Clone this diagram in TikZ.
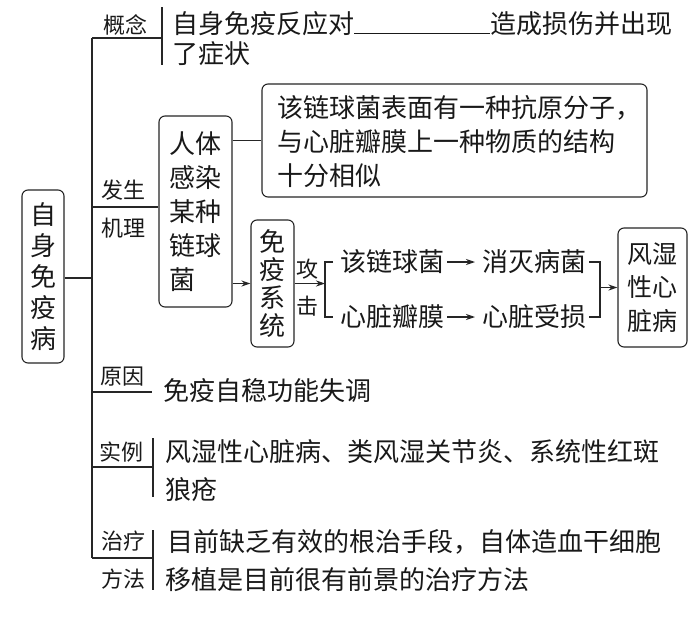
\documentclass[tikz,border=0pt]{standalone}
\usepackage{fontspec}
\setmainfont{Noto Sans CJK SC}
\usetikzlibrary{arrows.meta}
\begin{document}
\begin{tikzpicture}[x=1pt,y=-1pt,
  ln/.style={line width=1.1pt, draw=black!85},
  arr/.style={ln, -{Stealth[length=9pt,width=6pt]}},
  box/.style={draw=black!85, line width=1.1pt, rounded corners=6pt, inner sep=0pt, align=center, text=black!90},
  txt/.style={font=\fontsize{26}{33}\selectfont, inner sep=0pt, anchor=west, align=left, text=black!90},
  lab/.style={font=\fontsize{22}{26}\selectfont, inner sep=0pt, text=black!90},
]
\useasboundingbox[fill=white] (0,0) rectangle (696,621);

% root
\node[box, minimum width=42, minimum height=173, font=\fontsize{26}{31}\selectfont] (zs) at (43,276.5) {自\\身\\免\\疫\\病};

% trunk
\coordinate (t0) at (92,38);
\coordinate (t1) at (92,207);
\coordinate (tm) at (92,278);
\coordinate (t2) at (92,392);
\coordinate (t3) at (92,467);
\coordinate (t4) at (92,558);
\draw[ln] (t0) -- (t4);
\draw[ln] (tm -| zs.east) -- (tm);

% concept
\coordinate (g0) at (162,38);
\coordinate (g1) at (162,7);
\coordinate (g2) at (162,65);
\draw[ln] (t0) -- (g0);
\draw[ln] (g1) -- (g2);
\node[lab] (gn) at (125,25) {概念};
\node[txt] (gt1) at (172,24) {自身免疫反应对\rule[-0.5pt]{136pt}{0.9pt}造成损伤并出现};
\node[txt] (gt2) at (172,54) {了症状};

% mechanism
\node[box, minimum width=73, minimum height=191, font=\fontsize{26}{34}\selectfont, align=left] (rt) at (195.5,211.5) {人体\\感染\\某种\\链球\\菌};
\draw[ln] (t1) -- (t1 -| rt.west);
\node[lab] (fs) at (123,190) {发生};
\node[lab] (jl) at (123,228) {机理};
\node[box, minimum width=385, minimum height=113] (ag) at (454.5,140.5) {};
\node[txt, font=\fontsize{26}{34}\selectfont] (agt) at (277,142) {该链球菌表面有一种抗原分子，\\与心脏瓣膜上一种物质的结构\\十分相似};
\draw[ln] (rt.east |- ag.west) -- (ag.west);

\node[box, minimum width=43, minimum height=127, font=\fontsize{26}{28}\selectfont] (my) at (272.5,283.5) {免\\疫\\系\\统};
\draw[arr] (rt.east |- my.west) -- (my.west);

\coordinate (bm) at (325,283.5);
\draw[arr] (my.east) -- (bm);
\node[lab] (gj1) at (307,269) {攻};
\node[lab] (gj2) at (307,306) {击};
\node[txt] (c1) at (340,262) {该链球菌};
\node[txt] (c2) at (340,317) {心脏瓣膜};
\draw[ln] ([xshift=-7pt]c1.west) -| (bm) |- ([xshift=-7pt]c2.west);

\node[txt] (d1) at (482,262) {消灭病菌};
\node[txt] (d2) at (482,317) {心脏受损};
\draw[arr] ([xshift=3pt]c1.east) -- ([xshift=-7pt]d1.west);
\draw[arr] ([xshift=3pt]c2.east) -- ([xshift=-7pt]d2.west);

\node[box, minimum width=69, minimum height=119, font=\fontsize{25}{33.5}\selectfont] (fx) at (652.5,287.5) {风湿\\性心\\脏病};
\coordinate (rb) at (600,287.5);
\draw[ln] ([xshift=3pt]d1.east) -| (rb) |- ([xshift=3pt]d2.east);
\draw[arr] (rb) -- (fx.west);

% cause
\coordinate (y0) at (152,392);
\draw[ln] (t2) -- (y0);
\node[lab] (yy) at (122,377) {原因};
\node[txt] (yt) at (163,391) {免疫自稳功能失调};

% examples
\coordinate (s0) at (153,467);
\coordinate (s1) at (153,438);
\coordinate (s2) at (153,497);
\draw[ln] (t3) -- (s0);
\draw[ln] (s1) -- (s2);
\node[lab] (sl) at (121,452) {实例};
\node[txt] (st1) at (165,452) {风湿性心脏病、类风湿关节炎、系统性红斑};
\node[txt] (st2) at (165,490) {狼疮};

% treatment
\coordinate (z0) at (153,558);
\coordinate (z1) at (153,530);
\coordinate (z2) at (153,590);
\draw[ln] (t4) -- (z0);
\draw[ln] (z1) -- (z2);
\node[lab] (zl1) at (123,541) {治疗};
\node[lab] (zl2) at (123,579) {方法};
\node[txt] (zt1) at (167,542) {目前缺乏有效的根治手段，自体造血干细胞};
\node[txt] (zt2) at (165,580) {移植是目前很有前景的治疗方法};
\end{tikzpicture}
\end{document}
